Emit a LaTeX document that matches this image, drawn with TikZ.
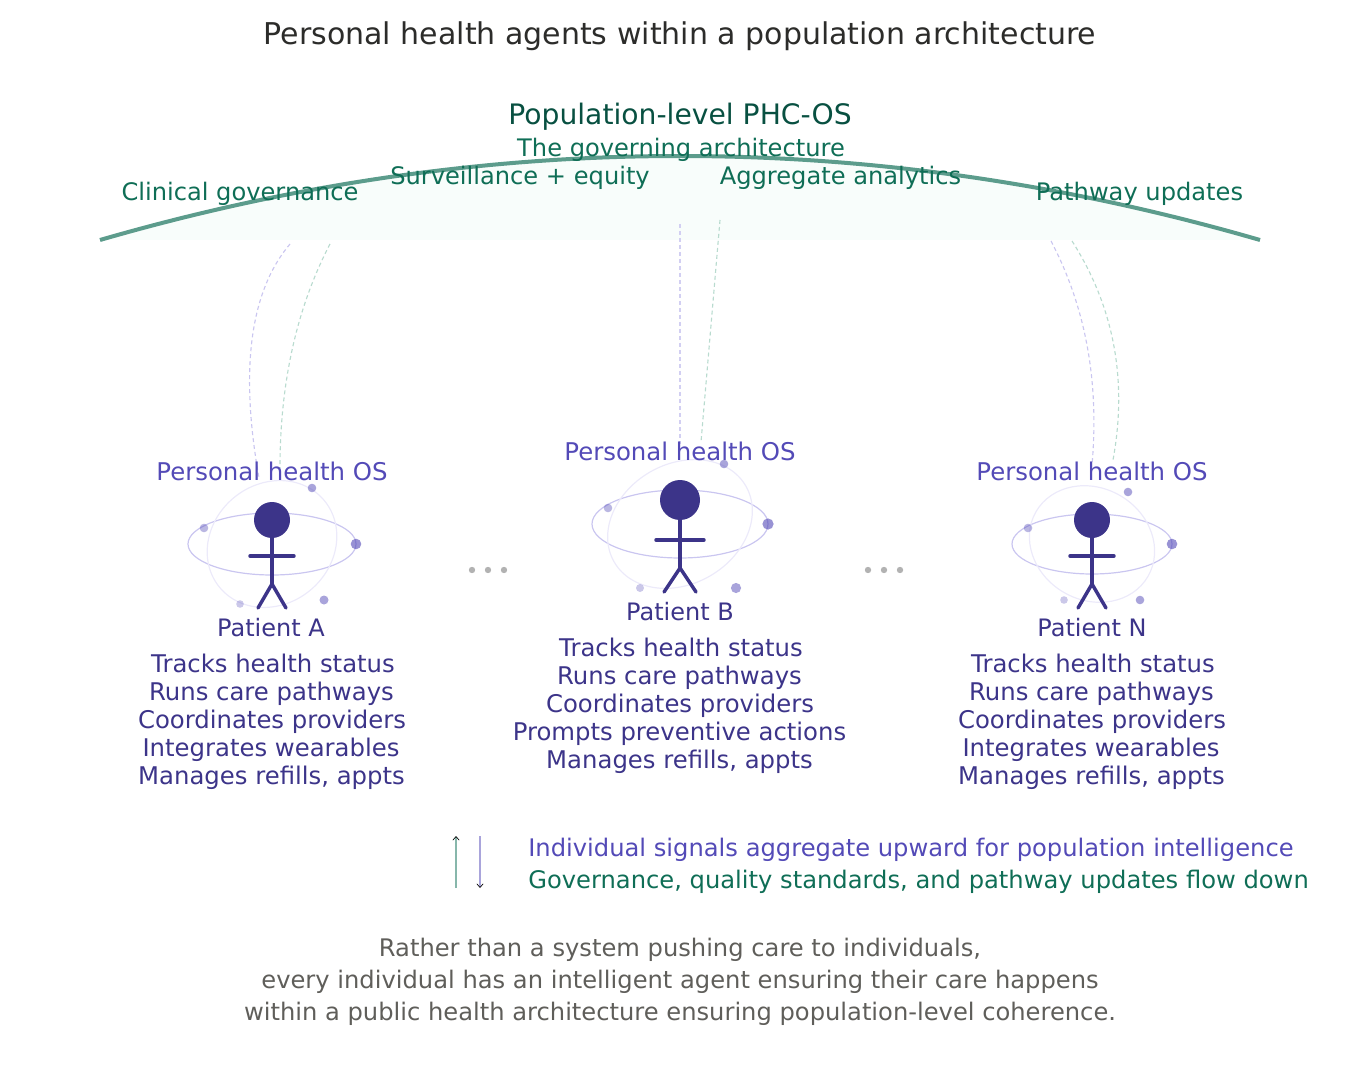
\documentclass[tikz,border=0pt]{standalone}
\usepackage{fontspec}
\setmainfont{DejaVu Sans}
\definecolor{green1}{HTML}{0F6E56}
\definecolor{green2}{HTML}{085041}
\definecolor{green3}{HTML}{B9DBCF}
\definecolor{domebg}{HTML}{F8FDFB}
\definecolor{purple1}{HTML}{534AB7}
\definecolor{purple2}{HTML}{3C3489}
\definecolor{purple3}{HTML}{CAC6F0}
\definecolor{purple4}{HTML}{ECEAFA}
\definecolor{gray1}{HTML}{5F5E5A}
\definecolor{gray2}{HTML}{2C2C2A}
\usetikzlibrary{arrows.meta, calc}
\newcommand{\qbend}[3]{(#1) .. controls ($(#1)!2/3!(#2)$) and ($(#3)!2/3!(#2)$) .. (#3)}

\begin{document}
\begin{tikzpicture}[
  x=0.75pt, y=-0.75pt,
  txt/.style    = {anchor=base, inner sep=0pt, font=\fontsize{18pt}{18pt}\selectfont},
  title/.style  = {txt, text=gray2, font=\fontsize{22.5pt}{22.5pt}\selectfont},
  dome/.style   = {txt, text=green1, font=\fontsize{18.1pt}{18pt}\selectfont},
  os/.style     = {txt, text=purple1, font=\fontsize{18.3pt}{18pt}\selectfont},
  who/.style    = {txt, text=purple2},
  does/.style   = {who, font=\fontsize{18.25pt}{18pt}\selectfont},
  note/.style   = {txt, text=gray1, font=\fontsize{18.14pt}{18pt}\selectfont},
  head/.style   = {circle, fill=purple2, inner sep=0pt},
  limb/.style   = {draw=purple2, line width=2.6pt, line cap=round, line join=round},
  orbit/.style  = {draw=purple3, line width=0.9pt},
  orbitb/.style = {draw=purple4, line width=0.9pt},
  link/.style   = {dashed, dash pattern=on 3pt off 2.25pt, line width=0.85pt},
  linkp/.style  = {link, draw=purple3},
  linkg/.style  = {link, draw=green3},
  spot/.style   = {fill=purple1},
  pause/.style  = {fill=gray!60}
]
\useasboundingbox (0,0) rectangle (1360,1080);

% -- DOME ---------------------------------------------------
\coordinate (domeL) at (100,240);
\coordinate (domeC) at (680,72);
\coordinate (domeR) at (1260,240);
\fill[domebg] \qbend{domeL}{domeC}{domeR} -- cycle;
\draw[green1!68, line width=3pt] \qbend{domeL}{domeC}{domeR};

% -- LINKS --------------------------------------------------
\coordinate (a1) at (290,244);  \coordinate (a1c) at (230,315);  \coordinate (a1e) at (259,478);
\coordinate (a2) at (330,244);  \coordinate (a2c) at (280,340);  \coordinate (a2e) at (280,468);
\coordinate (b1) at (680,224);  \coordinate (b1e) at (680,444);
\coordinate (b2) at (720,220);  \coordinate (b2e) at (701,442);
\coordinate (n1) at (1051,241); \coordinate (n1c) at (1103,340); \coordinate (n1e) at (1092,465);
\coordinate (n2) at (1072,241); \coordinate (n2c) at (1135,340); \coordinate (n2e) at (1113,460);

\draw[linkp] \qbend{a1}{a1c}{a1e};
\draw[linkg] \qbend{a2}{a2c}{a2e};
\draw[linkp, line width=1.5pt, draw=purple3!85] (b1) -- (b1e);
\draw[linkg] (b2) -- (b2e);
\draw[linkp] \qbend{n1}{n1c}{n1e};
\draw[linkg] \qbend{n2}{n2c}{n2e};

% -- TEXT AT THE TOP ----------------------------------------
\node[title] (ttl) at (680,44.8) {Personal health agents within a population architecture};
\node[title, text=green2, font=\fontsize{21.15pt}{21pt}\selectfont] (pop) at (680,124.8) {Population-level PHC-OS};
\node[dome] (gov)  at (681,156.8)  {The governing architecture};
\node[dome] (clin) at (240,200.8)  {Clinical governance};
\node[dome] (surv) at (520,184.8)  {Surveillance + equity};
\node[dome] (aggr) at (840.5,184.8)  {Aggregate analytics};
\node[dome] (path) at (1139.5,200.8) {Pathway updates};

% -- PATIENT A ----------------------------------------------
\draw[orbit]  (272,544) ellipse [x radius=63pt, y radius=23.25pt];
\draw[orbitb, rotate around={40:(272,544)}] (272,544) ellipse [x radius=51pt, y radius=45pt];
\foreach \x/\y/\r/\o in {312/488/4.3/.5, 204/528/4.3/.4, 356/544/5.3/.6, 324/600/4.5/.5, 240/604/3.8/.3}
  \fill[spot, opacity=\o] (\x,\y) circle [radius=\r*0.75pt];
\node[head, minimum size=27pt] (headA) at (272,520) {};
\coordinate (hipA) at (272,584);
\draw[limb] (headA.south) -- (hipA);
\draw[limb] (250,556) -- (294,556);
\draw[limb] (258,608) -- (hipA) -- (286,608);
\node[os]  (osA)  at (272,480) {Personal health OS};
\node[who] (patA) at (271,636) {Patient A};
\node[does] (a1t) at (273,672) {Tracks health status};
\node[does] (a2t) at (271.5,700) {Runs care pathways};
\node[does] (a3t) at (272,728) {Coordinates providers};
\node[does] (a4t) at (271,756) {Integrates wearables};
\node[does] (a5t) at (271.5,784) {Manages refills, appts};

% -- PATIENT B ----------------------------------------------
\draw[orbit]  (680,524) ellipse [x radius=66pt, y radius=25.5pt];
\draw[orbitb, rotate around={30:(680,524)}] (680,524) ellipse [x radius=57pt, y radius=45pt];
\foreach \x/\y/\r/\o in {724/464/4.3/.5, 608/508/4.3/.4, 768/524/5.6/.6, 736/588/5.1/.5, 640/588/4/.3}
  \fill[spot, opacity=\o] (\x,\y) circle [radius=\r*0.75pt];
\node[head, minimum size=30pt] (headB) at (680,500) {};
\coordinate (hipB) at (680,568);
\draw[limb] (headB.south) -- (hipB);
\draw[limb] (656,540) -- (704,540);
\draw[limb] (664,592) -- (hipB) -- (696,592);
\node[os]  (osB)  at (680,460) {Personal health OS};
\node[who] (patB) at (680,620) {Patient B};
\node[does] (b1t) at (681,656) {Tracks health status};
\node[does] (b2t) at (679.5,684) {Runs care pathways};
\node[does] (b3t) at (680,712) {Coordinates providers};
\node[does] (b4t) at (679.5,740) {Prompts preventive actions};
\node[does] (b5t) at (679.5,768) {Manages refills, appts};

% -- PATIENT N ----------------------------------------------
\draw[orbit]  (1092,544) ellipse [x radius=60pt, y radius=22.5pt];
\draw[orbitb, rotate around={-30:(1092,544)}] (1092,544) ellipse [x radius=48.5pt, y radius=42pt];
\foreach \x/\y/\r/\o in {1128/492/4.3/.5, 1028/528/4.3/.4, 1172/544/5.3/.6, 1140/600/4.3/.5, 1064/600/3.8/.3}
  \fill[spot, opacity=\o] (\x,\y) circle [radius=\r*0.75pt];
\node[head, minimum size=27pt] (headN) at (1092,520) {};
\coordinate (hipN) at (1092,584);
\draw[limb] (headN.south) -- (hipN);
\draw[limb] (1070,556) -- (1114,556);
\draw[limb] (1078,608) -- (hipN) -- (1106,608);
\node[os]  (osN)  at (1092,480) {Personal health OS};
\node[who] (patN) at (1092,636) {Patient N};
\node[does] (n1t) at (1093,672) {Tracks health status};
\node[does] (n2t) at (1091.5,700) {Runs care pathways};
\node[does] (n3t) at (1092,728) {Coordinates providers};
\node[does] (n4t) at (1091,756) {Integrates wearables};
\node[does] (n5t) at (1091.5,784) {Manages refills, appts};

% -- PAUSE DOTS ---------------------------------------------
\foreach \x in {472,488,504,868,884,900}
  \fill[pause] (\x,570) circle [radius=2.4pt];

% -- LEGEND -------------------------------------------------
\coordinate (upS) at (456,888);  \coordinate (upE) at (456,836);
\coordinate (dnS) at (480,836);  \coordinate (dnE) at (480,888);
\draw[green1!50, line width=1.1pt, -{Straight Barb[black, length=2.8pt, width=4.8pt, line width=0.5pt]}] (upS) -- (upE);
\draw[purple1!50, line width=1.1pt, -{Straight Barb[black, length=2.8pt, width=4.8pt, line width=0.5pt]}] (dnS) -- (dnE);
\node[os, anchor=base west, font=\fontsize{18.15pt}{18pt}\selectfont]   (sigUp) at (528,856) {Individual signals aggregate upward for population intelligence};
\node[dome, anchor=base west, font=\fontsize{18.15pt}{18pt}\selectfont] (sigDn) at (528,888) {Governance, quality standards, and pathway updates flow down};

% -- CLOSING NOTE -------------------------------------------
\node[note] (n1l) at (680,956)  {Rather than a system pushing care to individuals,};
\node[note] (n2l) at (680,988)  {every individual has an intelligent agent ensuring their care happens};
\node[note] (n3l) at (680,1020) {within a public health architecture ensuring population-level coherence.};

\end{tikzpicture}
\end{document}
